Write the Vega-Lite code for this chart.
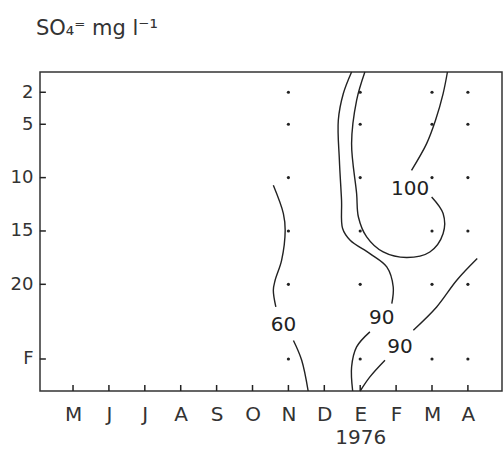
{
  "$schema": "https://vega.github.io/schema/vega-lite/v6.json",
  "autosize": {"type": "none"},
  "width": 462,
  "height": 319,
  "padding": {"left": 40, "top": 72, "right": 2, "bottom": 58},
  "background": "white",
  "title": {"text": "SO₄⁼ mg l⁻¹", "anchor": "start", "frame": "group", "dx": -4, "offset": 30, "fontSize": 21, "fontWeight": "normal", "font": "DejaVu Sans", "color": "#333"},
  "config": {
    "view": {"stroke": "#333", "strokeWidth": 1.5},
    "axis": {"grid": false, "domain": false, "labelFont": "DejaVu Sans", "labelColor": "#333"}
  },
  "datasets": {
    "lines": [
      {"c": "60a", "o": 1, "m": 5.58, "d": 10.72},
      {"c": "60a", "o": 2, "m": 5.86, "d": 13.37},
      {"c": "60a", "o": 3, "m": 5.91, "d": 14.93},
      {"c": "60a", "o": 4, "m": 5.81, "d": 17.75},
      {"c": "60a", "o": 5, "m": 5.63, "d": 19.62},
      {"c": "60a", "o": 6, "m": 5.58, "d": 20.56},
      {"c": "60a", "o": 7, "m": 5.65, "d": 22.12},
      {"c": "60b", "o": 1, "m": 6.14, "d": 25.27},
      {"c": "60b", "o": 2, "m": 6.37, "d": 27.12},
      {"c": "60b", "o": 3, "m": 6.55, "d": 30.0},
      {"c": "90a", "o": 1, "m": 7.76, "d": 0.1},
      {"c": "90a", "o": 2, "m": 7.53, "d": 2.12},
      {"c": "90a", "o": 3, "m": 7.39, "d": 4.62},
      {"c": "90a", "o": 4, "m": 7.42, "d": 8.37},
      {"c": "90a", "o": 5, "m": 7.48, "d": 12.12},
      {"c": "90a", "o": 6, "m": 7.51, "d": 14.77},
      {"c": "90a", "o": 7, "m": 7.72, "d": 15.87},
      {"c": "90a", "o": 8, "m": 8.27, "d": 17.12},
      {"c": "90a", "o": 9, "m": 8.74, "d": 18.37},
      {"c": "90a", "o": 10, "m": 8.92, "d": 20.25},
      {"c": "90a", "o": 11, "m": 8.88, "d": 21.8},
      {"c": "90b", "o": 1, "m": 8.27, "d": 24.46},
      {"c": "90b", "o": 2, "m": 7.9, "d": 25.87},
      {"c": "90b", "o": 3, "m": 7.76, "d": 27.75},
      {"c": "90b", "o": 4, "m": 7.79, "d": 30.0},
      {"c": "100a", "o": 1, "m": 8.13, "d": 0.1},
      {"c": "100a", "o": 2, "m": 7.9, "d": 2.75},
      {"c": "100a", "o": 3, "m": 7.76, "d": 6.81},
      {"c": "100a", "o": 4, "m": 7.9, "d": 11.49},
      {"c": "100a", "o": 5, "m": 7.95, "d": 13.69},
      {"c": "100a", "o": 6, "m": 8.18, "d": 15.56},
      {"c": "100a", "o": 7, "m": 8.64, "d": 16.97},
      {"c": "100a", "o": 8, "m": 9.3, "d": 17.49},
      {"c": "100a", "o": 9, "m": 9.94, "d": 16.97},
      {"c": "100a", "o": 10, "m": 10.31, "d": 15.24},
      {"c": "100a", "o": 11, "m": 10.31, "d": 13.37},
      {"c": "100a", "o": 12, "m": 9.99, "d": 11.81},
      {"c": "100b", "o": 1, "m": 9.43, "d": 9.31},
      {"c": "100b", "o": 2, "m": 9.85, "d": 6.81},
      {"c": "100b", "o": 3, "m": 10.1, "d": 4.6},
      {"c": "100b", "o": 4, "m": 10.31, "d": 2.12},
      {"c": "100b", "o": 5, "m": 10.43, "d": 0.1},
      {"c": "90c", "o": 1, "m": 11.26, "d": 17.59},
      {"c": "90c", "o": 2, "m": 10.69, "d": 19.62},
      {"c": "90c", "o": 3, "m": 10.13, "d": 22.12},
      {"c": "90c", "o": 4, "m": 9.48, "d": 24.3},
      {"c": "90d", "o": 1, "m": 8.69, "d": 27.12},
      {"c": "90d", "o": 2, "m": 8.27, "d": 28.68},
      {"c": "90d", "o": 3, "m": 8.0, "d": 30.0}
    ],
    "samples": [
      {"m": 6, "d": 2}, {"m": 6, "d": 5}, {"m": 6, "d": 10}, {"m": 6, "d": 15}, {"m": 6, "d": 20}, {"m": 6, "d": 27},
      {"m": 8, "d": 2}, {"m": 8, "d": 5}, {"m": 8, "d": 10}, {"m": 8, "d": 15}, {"m": 8, "d": 20}, {"m": 8, "d": 27},
      {"m": 10, "d": 2}, {"m": 10, "d": 5}, {"m": 10, "d": 10}, {"m": 10, "d": 15}, {"m": 10, "d": 20}, {"m": 10, "d": 27},
      {"m": 11, "d": 2}, {"m": 11, "d": 5}, {"m": 11, "d": 10}, {"m": 11, "d": 15}, {"m": 11, "d": 20}, {"m": 11, "d": 27}
    ],
    "labels": [
      {"m": 5.86, "d": 23.84, "t": "60"},
      {"m": 8.6, "d": 23.2, "t": "90"},
      {"m": 9.11, "d": 25.87, "t": "90"},
      {"m": 9.39, "d": 11.03, "t": "100"}
    ],
    "xticks": [{"m": 0}, {"m": 1}, {"m": 2}, {"m": 3}, {"m": 4}, {"m": 5}, {"m": 6}, {"m": 7}, {"m": 8}, {"m": 9}, {"m": 10}, {"m": 11}],
    "yticks": [{"d": 2}, {"d": 5}, {"d": 10}, {"d": 15}, {"d": 20}, {"d": 27}]
  },
  "layer": [
    {
      "data": {"name": "samples"},
      "mark": {"type": "point", "filled": true, "color": "#222", "size": 10, "opacity": 1},
      "encoding": {
        "x": {"field": "m", "type": "quantitative", "title": null,
              "scale": {"domain": [-0.92, 11.95], "nice": false, "zero": false},
              "axis": {"values": [0,1,2,3,4,5,6,7,8,9,10,11], "ticks": false, "labelPadding": 13, "labelFontSize": 20, "labelLineHeight": 23, "labelBaseline": "top", "labelFlush": false, "labelOverlap": false,
                       "labelExpr": "[\"M\",\"J\",\"J\",\"A\",\"S\",\"O\",\"N\",\"D\",[\"E\",\"1976\"],\"F\",\"M\",\"A\"][datum.value]"}},
        "y": {"field": "d", "type": "quantitative", "title": null,
              "scale": {"domain": [0.1, 30], "reverse": true, "nice": false, "zero": false},
              "axis": {"values": [2,5,10,15,20,27], "ticks": false, "labelPadding": 7, "labelFontSize": 18, "labelFlush": false, "labelOverlap": false,
                       "labelExpr": "datum.value == 27 ? 'F' : datum.label"}}
      }
    },
    {
      "data": {"name": "xticks"},
      "mark": {"type": "tick", "orient": "vertical", "color": "#222", "thickness": 1.5, "size": 6, "opacity": 1},
      "encoding": {
        "x": {"field": "m", "type": "quantitative", "title": null},
        "y": {"datum": 29.72}
      }
    },
    {
      "data": {"name": "yticks"},
      "mark": {"type": "tick", "orient": "horizontal", "color": "#222", "thickness": 1.5, "size": 6, "opacity": 1},
      "encoding": {
        "y": {"field": "d", "type": "quantitative", "title": null},
        "x": {"datum": -0.84}
      }
    },
    {
      "data": {"name": "lines"},
      "mark": {"type": "line", "color": "#222", "strokeWidth": 1.4, "interpolate": "catmull-rom"},
      "encoding": {
        "x": {"field": "m", "type": "quantitative", "title": null},
        "y": {"field": "d", "type": "quantitative", "title": null},
        "detail": {"field": "c"},
        "order": {"field": "o", "type": "quantitative"}
      }
    },
    {
      "data": {"name": "labels"},
      "mark": {"type": "text", "font": "DejaVu Sans", "fontSize": 20, "color": "#222", "align": "center", "baseline": "middle"},
      "encoding": {
        "x": {"field": "m", "type": "quantitative", "title": null},
        "y": {"field": "d", "type": "quantitative", "title": null},
        "text": {"field": "t"}
      }
    }
  ]
}
